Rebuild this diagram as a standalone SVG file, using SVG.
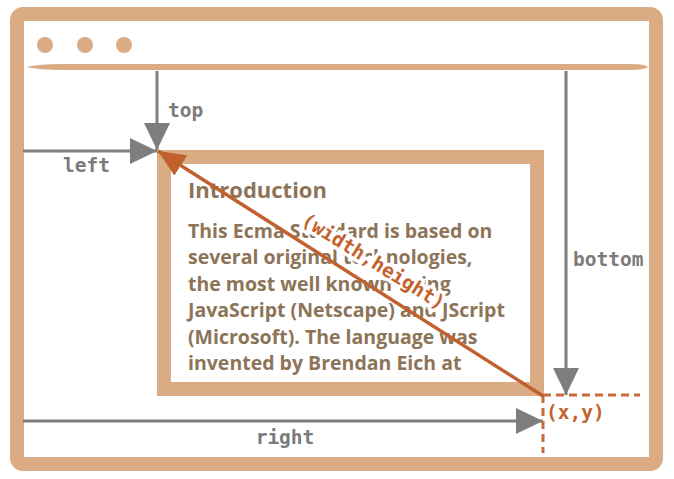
<svg xmlns="http://www.w3.org/2000/svg" width="674" height="479" viewBox="0 0 674 479">
<defs>
<style>
.frame{fill:none;stroke:#dbab84;stroke-width:14}
.dot{fill:#dbab84}
.gray{stroke:#7e7e7e;stroke-width:3;fill:none}
.mono{font-family:"DejaVu Sans Mono","Liberation Mono",monospace;font-weight:bold;font-size:19.5px}
.glab{fill:#7b7b7b}
.olab{fill:#c4622e}
.body{font-family:"Open Sans","Noto Sans",sans-serif;font-weight:bold;font-size:19.5px;fill:#8d7458}
.dash{stroke:#c86a3a;stroke-width:3;stroke-dasharray:8 5;fill:none}
.halo{fill:#ffffff;stroke:#ffffff;stroke-width:7;stroke-linejoin:round}
</style>
<marker id="ga" viewBox="0 0 27 26" refX="27" refY="13" markerWidth="27" markerHeight="26" markerUnits="userSpaceOnUse" orient="auto">
<path d="M0,0 L27,13 L0,26 Z" fill="#7e7e7e"/>
</marker>
<marker id="oa" viewBox="0 0 27 24" refX="27" refY="12" markerWidth="27" markerHeight="24" markerUnits="userSpaceOnUse" orient="auto">
<path d="M0,0 L27,12 L0,24 Z" fill="#c0612f"/>
</marker>
</defs>
<g id="window">
<rect class="frame" x="17" y="14" width="639" height="450" rx="6"/>
<path d="M26,67 Q40,64 60,64 L630,64 Q645,64 648,67 Q645,70 630,70 L60,70 Q40,70 26,67 Z" fill="#dbab84"/>
<circle class="dot" cx="45" cy="45" r="8"/>
<circle class="dot" cx="85" cy="45" r="8"/>
<circle class="dot" cx="124" cy="45" r="8"/>
</g>
<g id="element">
<rect class="frame" x="164" y="157" width="373" height="232"/>
<text class="body" x="188" y="198" style="font-size:22px">Introduction</text>
<text class="body" x="188" y="238">This Ecma Standard is based on</text>
<text class="body" x="188" y="264">several original technologies,</text>
<text class="body" x="188" y="291">the most well known being</text>
<text class="body" x="188" y="317">JavaScript (Netscape) and JScript</text>
<text class="body" x="188" y="344">(Microsoft). The language was</text>
<text class="body" x="188" y="370">invented by Brendan Eich at</text>
<text class="mono halo" x="0" y="0" text-anchor="middle" transform="translate(370,267) rotate(31.8)" aria-hidden="true">(width,height)</text>
</g>
<g id="connectors">
<line class="gray" x1="157" y1="71" x2="157" y2="150" marker-end="url(#ga)"/>
<line class="gray" x1="23" y1="151" x2="157" y2="151" marker-end="url(#ga)"/>
<line class="gray" x1="566" y1="71" x2="566" y2="395" marker-end="url(#ga)"/>
<line class="gray" x1="23" y1="421" x2="543" y2="421" marker-end="url(#ga)"/>
<path class="dash" d="M543,395 L640,395 M543,395 L543,453"/>
<line x1="543" y1="396" x2="158" y2="151" stroke="#c0612f" stroke-width="3.5" marker-end="url(#oa)"/>
</g>
<g id="labels">
<text class="mono glab" x="168" y="117">top</text>
<text class="mono glab" x="63" y="172">left</text>
<text class="mono glab" x="573" y="266">bottom</text>
<text class="mono glab" x="285" y="444" text-anchor="middle">right</text>
<text class="mono olab" x="546" y="419">(x,y)</text>
<text class="mono olab" x="0" y="0" text-anchor="middle" transform="translate(370,267) rotate(31.8)">(width,height)</text>
</g>
</svg>
